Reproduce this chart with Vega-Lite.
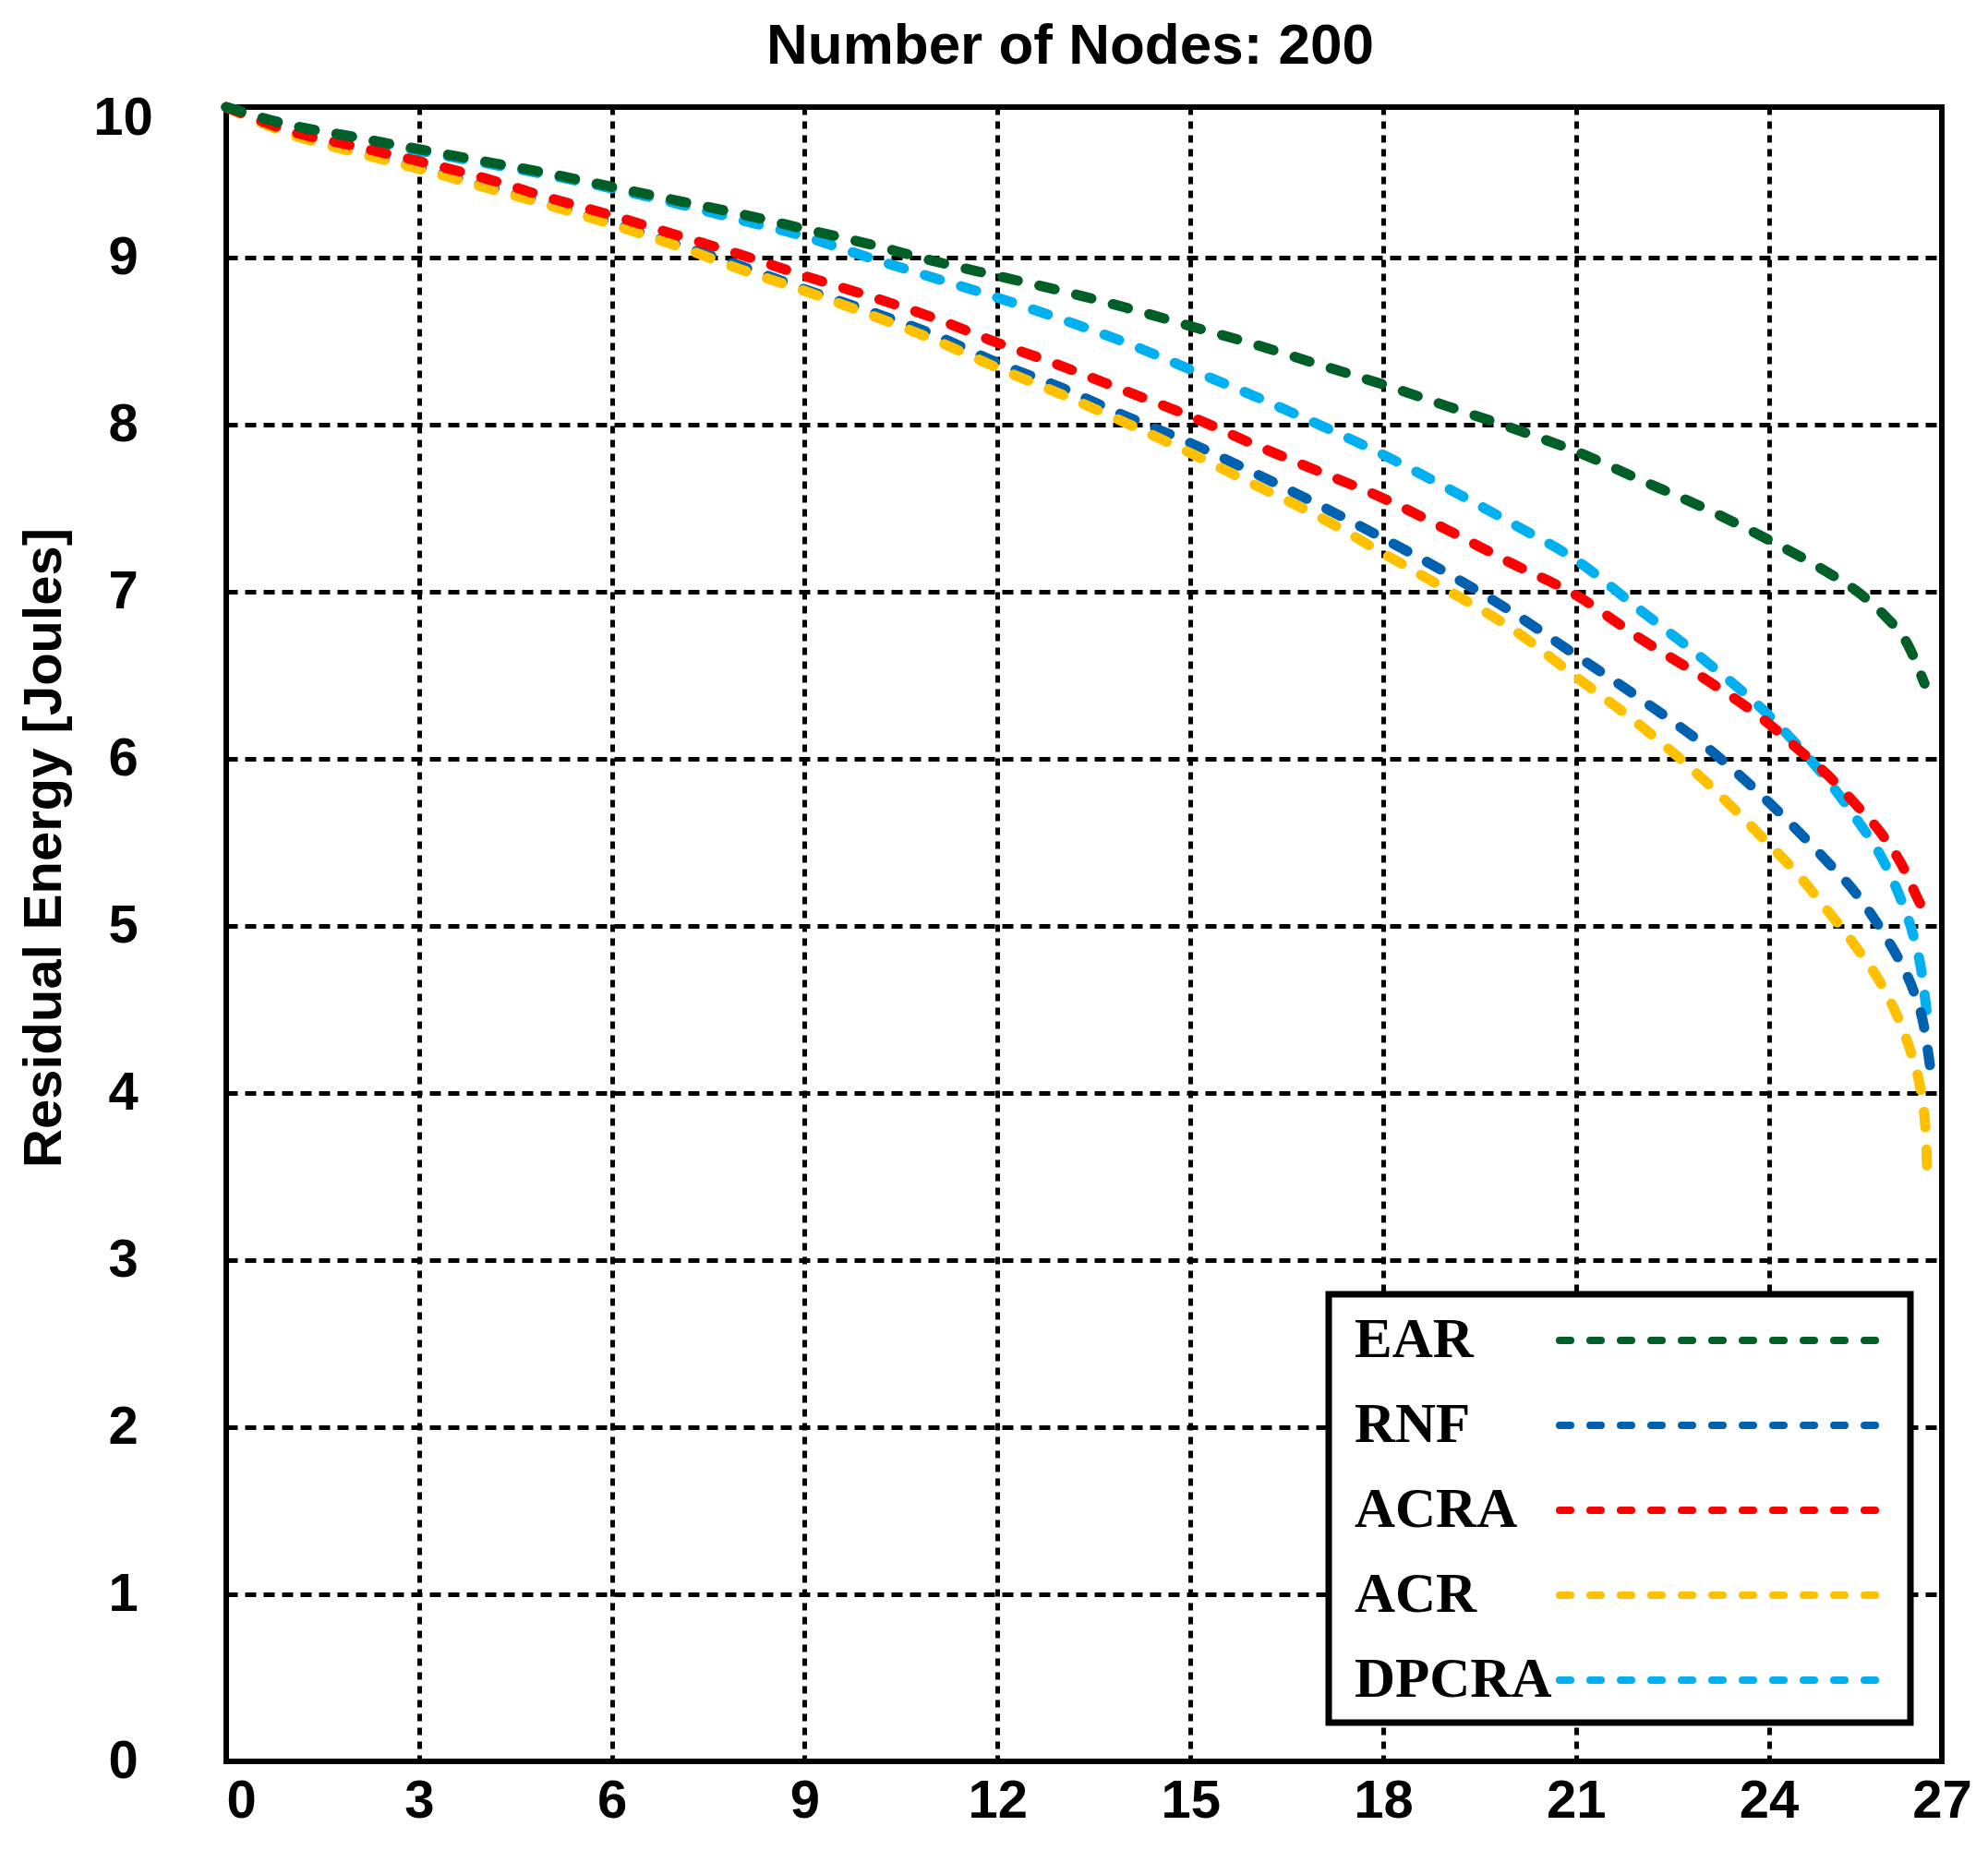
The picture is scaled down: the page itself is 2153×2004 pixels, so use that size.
{
  "$schema": "https://vega.github.io/schema/vega-lite/v6.json",
  "autosize": "none",
  "padding": {"left": 245, "top": 116, "right": 50, "bottom": 96},
  "width": 1858,
  "height": 1792,
  "background": "white",
  "title": {
    "text": "Number of Nodes: 200",
    "font": "Liberation Sans",
    "fontWeight": "bold",
    "fontSize": 62,
    "color": "black",
    "anchor": "middle",
    "frame": "group",
    "dx": -15,
    "offset": 12
  },
  "data": {
    "values": [
      {"protocol": "DPCRA", "time": 0, "energy": 10},
      {"protocol": "DPCRA", "time": 1, "energy": 9.88},
      {"protocol": "DPCRA", "time": 2, "energy": 9.8},
      {"protocol": "DPCRA", "time": 3, "energy": 9.71},
      {"protocol": "DPCRA", "time": 4, "energy": 9.63},
      {"protocol": "DPCRA", "time": 5, "energy": 9.55},
      {"protocol": "DPCRA", "time": 6, "energy": 9.46},
      {"protocol": "DPCRA", "time": 7, "energy": 9.36},
      {"protocol": "DPCRA", "time": 8, "energy": 9.25},
      {"protocol": "DPCRA", "time": 9, "energy": 9.14},
      {"protocol": "DPCRA", "time": 10, "energy": 9.0},
      {"protocol": "DPCRA", "time": 11, "energy": 8.88},
      {"protocol": "DPCRA", "time": 12, "energy": 8.76},
      {"protocol": "DPCRA", "time": 13, "energy": 8.63},
      {"protocol": "DPCRA", "time": 14, "energy": 8.49},
      {"protocol": "DPCRA", "time": 15, "energy": 8.33},
      {"protocol": "DPCRA", "time": 16, "energy": 8.17},
      {"protocol": "DPCRA", "time": 17, "energy": 8.0},
      {"protocol": "DPCRA", "time": 18, "energy": 7.82},
      {"protocol": "DPCRA", "time": 19, "energy": 7.62},
      {"protocol": "DPCRA", "time": 20, "energy": 7.41},
      {"protocol": "DPCRA", "time": 21, "energy": 7.19},
      {"protocol": "DPCRA", "time": 22, "energy": 6.89},
      {"protocol": "DPCRA", "time": 23, "energy": 6.59},
      {"protocol": "DPCRA", "time": 24, "energy": 6.26},
      {"protocol": "DPCRA", "time": 24.5, "energy": 6.08},
      {"protocol": "DPCRA", "time": 25, "energy": 5.88},
      {"protocol": "DPCRA", "time": 25.5, "energy": 5.65},
      {"protocol": "DPCRA", "time": 26, "energy": 5.38},
      {"protocol": "DPCRA", "time": 26.3, "energy": 5.15},
      {"protocol": "DPCRA", "time": 26.5, "energy": 4.95},
      {"protocol": "DPCRA", "time": 26.65, "energy": 4.72},
      {"protocol": "DPCRA", "time": 26.75, "energy": 4.45},

      {"protocol": "RNF", "time": 0, "energy": 10},
      {"protocol": "RNF", "time": 1, "energy": 9.83},
      {"protocol": "RNF", "time": 2, "energy": 9.71},
      {"protocol": "RNF", "time": 3, "energy": 9.6},
      {"protocol": "RNF", "time": 4, "energy": 9.48},
      {"protocol": "RNF", "time": 5, "energy": 9.36},
      {"protocol": "RNF", "time": 6, "energy": 9.23},
      {"protocol": "RNF", "time": 7, "energy": 9.09},
      {"protocol": "RNF", "time": 8, "energy": 8.95},
      {"protocol": "RNF", "time": 9, "energy": 8.81},
      {"protocol": "RNF", "time": 10, "energy": 8.68},
      {"protocol": "RNF", "time": 11, "energy": 8.54},
      {"protocol": "RNF", "time": 12, "energy": 8.37},
      {"protocol": "RNF", "time": 13, "energy": 8.22},
      {"protocol": "RNF", "time": 14, "energy": 8.05},
      {"protocol": "RNF", "time": 15, "energy": 7.89},
      {"protocol": "RNF", "time": 16, "energy": 7.71},
      {"protocol": "RNF", "time": 17, "energy": 7.52},
      {"protocol": "RNF", "time": 18, "energy": 7.32},
      {"protocol": "RNF", "time": 19, "energy": 7.11},
      {"protocol": "RNF", "time": 20, "energy": 6.88},
      {"protocol": "RNF", "time": 21, "energy": 6.62},
      {"protocol": "RNF", "time": 22, "energy": 6.36},
      {"protocol": "RNF", "time": 23, "energy": 6.08},
      {"protocol": "RNF", "time": 24, "energy": 5.74},
      {"protocol": "RNF", "time": 24.5, "energy": 5.57},
      {"protocol": "RNF", "time": 25, "energy": 5.39},
      {"protocol": "RNF", "time": 25.5, "energy": 5.2},
      {"protocol": "RNF", "time": 26, "energy": 4.95},
      {"protocol": "RNF", "time": 26.3, "energy": 4.77},
      {"protocol": "RNF", "time": 26.5, "energy": 4.62},
      {"protocol": "RNF", "time": 26.7, "energy": 4.38},
      {"protocol": "RNF", "time": 26.8, "energy": 4.15},

      {"protocol": "ACR", "time": 0, "energy": 10},
      {"protocol": "ACR", "time": 1, "energy": 9.82},
      {"protocol": "ACR", "time": 2, "energy": 9.7},
      {"protocol": "ACR", "time": 3, "energy": 9.59},
      {"protocol": "ACR", "time": 4, "energy": 9.47},
      {"protocol": "ACR", "time": 5, "energy": 9.35},
      {"protocol": "ACR", "time": 6, "energy": 9.22},
      {"protocol": "ACR", "time": 7, "energy": 9.08},
      {"protocol": "ACR", "time": 8, "energy": 8.93},
      {"protocol": "ACR", "time": 9, "energy": 8.8},
      {"protocol": "ACR", "time": 10, "energy": 8.66},
      {"protocol": "ACR", "time": 11, "energy": 8.51},
      {"protocol": "ACR", "time": 12, "energy": 8.34},
      {"protocol": "ACR", "time": 13, "energy": 8.18},
      {"protocol": "ACR", "time": 14, "energy": 8.01},
      {"protocol": "ACR", "time": 15, "energy": 7.83},
      {"protocol": "ACR", "time": 16, "energy": 7.64},
      {"protocol": "ACR", "time": 17, "energy": 7.45},
      {"protocol": "ACR", "time": 18, "energy": 7.23},
      {"protocol": "ACR", "time": 19, "energy": 7.01},
      {"protocol": "ACR", "time": 20, "energy": 6.78},
      {"protocol": "ACR", "time": 21, "energy": 6.49},
      {"protocol": "ACR", "time": 22, "energy": 6.2},
      {"protocol": "ACR", "time": 23, "energy": 5.87},
      {"protocol": "ACR", "time": 24, "energy": 5.49},
      {"protocol": "ACR", "time": 24.5, "energy": 5.31},
      {"protocol": "ACR", "time": 25, "energy": 5.1},
      {"protocol": "ACR", "time": 25.5, "energy": 4.88},
      {"protocol": "ACR", "time": 26, "energy": 4.62},
      {"protocol": "ACR", "time": 26.3, "energy": 4.4},
      {"protocol": "ACR", "time": 26.5, "energy": 4.2},
      {"protocol": "ACR", "time": 26.65, "energy": 3.98},
      {"protocol": "ACR", "time": 26.72, "energy": 3.76},
      {"protocol": "ACR", "time": 26.75, "energy": 3.5},

      {"protocol": "ACRA", "time": 0, "energy": 10},
      {"protocol": "ACRA", "time": 1, "energy": 9.84},
      {"protocol": "ACRA", "time": 2, "energy": 9.74},
      {"protocol": "ACRA", "time": 3, "energy": 9.64},
      {"protocol": "ACRA", "time": 4, "energy": 9.53},
      {"protocol": "ACRA", "time": 5, "energy": 9.4},
      {"protocol": "ACRA", "time": 6, "energy": 9.28},
      {"protocol": "ACRA", "time": 7, "energy": 9.15},
      {"protocol": "ACRA", "time": 8, "energy": 9.02},
      {"protocol": "ACRA", "time": 9, "energy": 8.89},
      {"protocol": "ACRA", "time": 10, "energy": 8.77},
      {"protocol": "ACRA", "time": 11, "energy": 8.64},
      {"protocol": "ACRA", "time": 12, "energy": 8.49},
      {"protocol": "ACRA", "time": 13, "energy": 8.35},
      {"protocol": "ACRA", "time": 14, "energy": 8.2},
      {"protocol": "ACRA", "time": 15, "energy": 8.05},
      {"protocol": "ACRA", "time": 16, "energy": 7.88},
      {"protocol": "ACRA", "time": 17, "energy": 7.72},
      {"protocol": "ACRA", "time": 18, "energy": 7.56},
      {"protocol": "ACRA", "time": 19, "energy": 7.37},
      {"protocol": "ACRA", "time": 20, "energy": 7.17},
      {"protocol": "ACRA", "time": 21, "energy": 6.98},
      {"protocol": "ACRA", "time": 22, "energy": 6.72},
      {"protocol": "ACRA", "time": 23, "energy": 6.48},
      {"protocol": "ACRA", "time": 24, "energy": 6.21},
      {"protocol": "ACRA", "time": 24.5, "energy": 6.06},
      {"protocol": "ACRA", "time": 25, "energy": 5.91},
      {"protocol": "ACRA", "time": 25.5, "energy": 5.73},
      {"protocol": "ACRA", "time": 26, "energy": 5.53},
      {"protocol": "ACRA", "time": 26.3, "energy": 5.37},
      {"protocol": "ACRA", "time": 26.6, "energy": 5.15},
      {"protocol": "ACRA", "time": 26.75, "energy": 5.05},

      {"protocol": "EAR", "time": 0, "energy": 10},
      {"protocol": "EAR", "time": 1, "energy": 9.88},
      {"protocol": "EAR", "time": 2, "energy": 9.8},
      {"protocol": "EAR", "time": 3, "energy": 9.72},
      {"protocol": "EAR", "time": 4, "energy": 9.64},
      {"protocol": "EAR", "time": 5, "energy": 9.56},
      {"protocol": "EAR", "time": 6, "energy": 9.47},
      {"protocol": "EAR", "time": 7, "energy": 9.38},
      {"protocol": "EAR", "time": 8, "energy": 9.29},
      {"protocol": "EAR", "time": 9, "energy": 9.19},
      {"protocol": "EAR", "time": 10, "energy": 9.09},
      {"protocol": "EAR", "time": 11, "energy": 8.98},
      {"protocol": "EAR", "time": 12, "energy": 8.89},
      {"protocol": "EAR", "time": 13, "energy": 8.8},
      {"protocol": "EAR", "time": 14, "energy": 8.7},
      {"protocol": "EAR", "time": 15, "energy": 8.59},
      {"protocol": "EAR", "time": 16, "energy": 8.48},
      {"protocol": "EAR", "time": 17, "energy": 8.36},
      {"protocol": "EAR", "time": 18, "energy": 8.24},
      {"protocol": "EAR", "time": 19, "energy": 8.11},
      {"protocol": "EAR", "time": 20, "energy": 7.98},
      {"protocol": "EAR", "time": 21, "energy": 7.84},
      {"protocol": "EAR", "time": 22, "energy": 7.67},
      {"protocol": "EAR", "time": 23, "energy": 7.5},
      {"protocol": "EAR", "time": 24, "energy": 7.31},
      {"protocol": "EAR", "time": 25, "energy": 7.12},
      {"protocol": "EAR", "time": 25.5, "energy": 7.01},
      {"protocol": "EAR", "time": 26, "energy": 6.86},
      {"protocol": "EAR", "time": 26.4, "energy": 6.69},
      {"protocol": "EAR", "time": 26.7, "energy": 6.45}
    ]
  },
  "mark": {
    "type": "line",
    "strokeWidth": 11,
    "strokeCap": "round",
    "strokeDash": [17, 24],
    "interpolate": "monotone"
  },
  "encoding": {
    "x": {
      "field": "time",
      "type": "quantitative",
      "scale": {"domain": [0, 24, 27], "range": [0, 1670.6, 1858], "zero": false, "nice": false},
      "axis": {
        "title": null,
        "values": [0, 3, 6, 9, 12, 15, 18, 21, 24, 27],
        "labelAlign": {"expr": "datum.value == 0 ? 'left' : 'center'"},
        "labelBaseline": "top",
        "labelPadding": 14,
        "gridDash": [8, 7],
        "gridWidth": 5
      }
    },
    "y": {
      "field": "energy",
      "type": "quantitative",
      "scale": {"domain": [0, 9, 10], "range": [1792, 163, 0], "zero": false, "nice": false},
      "axis": {
        "title": "Residual Energy [Joules]",
        "values": [0, 1, 2, 3, 4, 5, 6, 7, 8, 9, 10],
        "labelAlign": "center",
        "labelBaseline": "middle",
        "labelPadding": 112,
        "labelOffset": {"expr": "datum.value == 10 ? 12 : 0"},
        "titleX": -197,
        "titleY": 802,
        "titleAngle": 270,
        "titleBaseline": "middle",
        "titleAlign": "center",
        "gridDash": [12, 8],
        "gridWidth": 5
      }
    },
    "color": {
      "field": "protocol",
      "type": "nominal",
      "scale": {
        "domain": ["EAR", "RNF", "ACRA", "ACR", "DPCRA"],
        "range": ["#005f26", "#0061b0", "#ff0000", "#ffc000", "#00b0f0"]
      },
      "legend": {
        "title": null,
        "orient": "none",
        "legendX": 1194,
        "legendY": 1286,
        "direction": "vertical",
        "symbolType": "M-5.8,0H5.8",
        "symbolSize": 3600,
        "symbolStrokeWidth": 8,
        "symbolDash": [12, 21],
        "symbolOffset": 374,
        "labelOffset": -430,
        "labelFont": "Liberation Serif",
        "labelFontWeight": "bold",
        "labelFontSize": 61,
        "labelColor": "black",
        "labelLimit": 0,
        "rowPadding": 28,
        "padding": 16,
        "strokeColor": "black",
        "fillColor": "white",
        "encode": {
          "legend": {"update": {"strokeWidth": {"value": 7}}},
          "symbols": {"update": {"strokeCap": {"value": "round"}}}
        }
      }
    }
  },
  "config": {
    "view": {"stroke": "black", "strokeWidth": 6},
    "axis": {
      "domain": false,
      "ticks": false,
      "tickSize": 0,
      "grid": true,
      "gridColor": "black",
      "gridOpacity": 1,
      "labelFont": "Liberation Sans",
      "labelFontWeight": "bold",
      "labelFontSize": 58,
      "labelColor": "black",
      "titleFont": "Liberation Sans",
      "titleFontWeight": "bold",
      "titleFontSize": 58,
      "titleColor": "black"
    }
  }
}
